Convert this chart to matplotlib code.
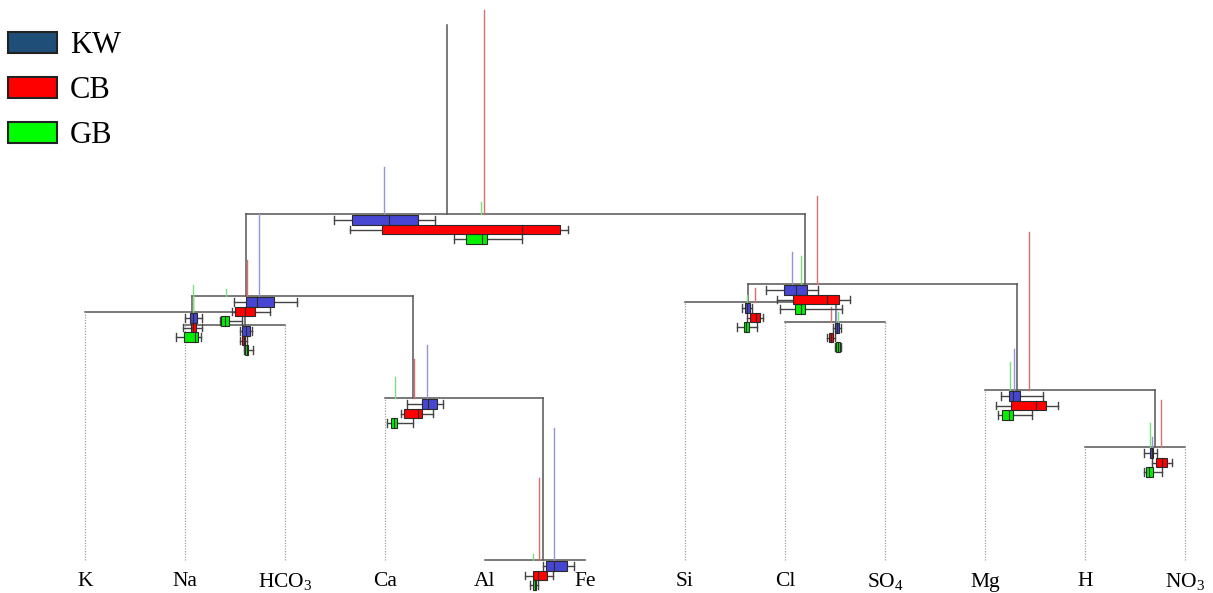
import matplotlib
matplotlib.use('Agg')
import matplotlib.pyplot as plt
from matplotlib.patches import Rectangle, Patch

plt.rcParams['font.family'] = ['Liberation Serif', 'DejaVu Serif']
plt.rcParams['mathtext.fontset'] = 'custom'
plt.rcParams['mathtext.rm'] = 'Liberation Serif'
plt.rcParams['mathtext.it'] = 'Liberation Serif'

# leaves, left to right
leaves = ['K', 'Na', r'HCO$_3$', 'Ca', 'Al', 'Fe',
          'Si', 'Cl', r'SO$_4$', 'Mg', 'H', r'NO$_3$']

# internal nodes: x position, height and children
# children are leaf indices (int) or node names (str)
node_x = {'root': 3.62, 'n2': 1.61, 'n3': 1.07, 'n4': 1.60, 'n5': 3.28,
          'n6': 4.58, 'n7': 7.20, 'n8': 6.63, 'n9': 7.51, 'n10': 9.32,
          'n11': 10.70}
node_h = {'root': 3.46, 'n2': 2.64, 'n3': 2.48, 'n4': 2.35, 'n5': 1.62,
          'n6': 0.0, 'n7': 2.76, 'n8': 2.58, 'n9': 2.38, 'n10': 1.70,
          'n11': 1.13}
node_kids = {'root': ('n2', 'n7'), 'n2': ('n3', 'n5'), 'n3': (0, 'n4'),
             'n4': (1, 2), 'n5': (3, 'n6'), 'n6': (4, 5),
             'n7': ('n8', 'n10'), 'n8': (6, 'n9'), 'n9': (7, 8),
             'n10': (9, 'n11'), 'n11': (10, 11)}
root_top = 5.35

groups = ['KW', 'CB', 'GB']

# box stats per node: (whisker low, q1, median, q3, whisker high)
box_kw = {'root': (2.49, 2.67, 3.04, 3.33, 3.50), 'n2': (1.49, 1.61, 1.72, 1.89, 2.12),
          'n3': (1.00, 1.05, 1.08, 1.12, 1.17), 'n4': (1.55, 1.57, 1.61, 1.65, 1.67),
          'n5': (3.22, 3.37, 3.43, 3.52, 3.58), 'n6': (4.58, 4.61, 4.69, 4.82, 4.89),
          'n7': (6.81, 6.99, 7.11, 7.22, 7.33), 'n8': (6.57, 6.60, 6.62, 6.65, 6.67),
          'n9': (7.48, 7.50, 7.52, 7.54, 7.56), 'n10': (9.16, 9.24, 9.28, 9.35, 9.58),
          'n11': (10.59, 10.65, 10.67, 10.68, 10.72)}
box_cb = {'root': (2.65, 2.97, 4.37, 4.75, 4.83), 'n2': (1.47, 1.50, 1.60, 1.70, 1.85),
          'n3': (0.98, 1.06, 1.08, 1.11, 1.17), 'n4': (1.55, 1.57, 1.585, 1.60, 1.62),
          'n5': (3.16, 3.19, 3.33, 3.37, 3.48), 'n6': (4.40, 4.48, 4.53, 4.62, 4.68),
          'n7': (6.92, 7.08, 7.42, 7.54, 7.65), 'n8': (6.62, 6.65, 6.71, 6.75, 6.78),
          'n9': (7.42, 7.44, 7.46, 7.48, 7.50), 'n10': (9.11, 9.26, 9.51, 9.61, 9.73),
          'n11': (10.67, 10.71, 10.77, 10.82, 10.87)}
box_gb = {'root': (3.69, 3.81, 3.97, 4.02, 4.37), 'n2': (1.35, 1.36, 1.40, 1.44, 1.57),
          'n3': (0.91, 0.99, 1.10, 1.13, 1.16), 'n4': (1.59, 1.60, 1.615, 1.63, 1.68),
          'n5': (3.02, 3.06, 3.09, 3.12, 3.28), 'n6': (4.45, 4.48, 4.50, 4.51, 4.53),
          'n7': (6.95, 7.10, 7.16, 7.20, 7.57), 'n8': (6.52, 6.59, 6.61, 6.64, 6.72),
          'n9': (7.50, 7.51, 7.53, 7.55, 7.56), 'n10': (9.13, 9.17, 9.24, 9.28, 9.47),
          'n11': (10.59, 10.61, 10.64, 10.68, 10.77)}

# thin vertical lines above each node: (x, top height)
spike_kw = {'root': (2.99, 3.93), 'n2': (1.74, 3.46), 'n5': (3.42, 2.15),
            'n6': (4.69, 1.32), 'n7': (7.07, 3.08), 'n9': (7.51, 2.52),
            'n10': (9.29, 2.11), 'n11': (10.67, 1.23)}
spike_cb = {'root': (3.99, 5.50), 'n2': (1.62, 3.00), 'n3': (1.08, 2.62),
            'n5': (3.29, 2.01), 'n6': (4.54, 0.82), 'n7': (7.32, 3.64),
            'n8': (6.70, 2.72), 'n9': (7.46, 2.53), 'n10': (9.44, 3.28),
            'n11': (10.76, 1.60)}
spike_gb = {'root': (3.96, 3.58), 'n2': (1.41, 2.71), 'n3': (1.08, 2.75),
            'n5': (3.10, 1.83), 'n6': (4.48, 0.06), 'n7': (7.16, 3.04),
            'n8': (6.62, 2.65), 'n9': (7.53, 2.48), 'n10': (9.25, 1.98),
            'n11': (10.65, 1.37)}

box_colors = {'KW': '#4646d2', 'CB': '#ff0000', 'GB': '#00f000'}
spike_colors = {'KW': '#9494d8', 'CB': '#d87070', 'GB': '#7ce07c'}
legend_colors = {'KW': '#1f4e79', 'CB': '#ff0000', 'GB': '#00ff00'}
tree_col = '#555555'


def child_pos(c):
    if isinstance(c, int):
        return c, 0.0
    return node_x[c], node_h[c]


def draw_tree(ax):
    for name, (a, b) in node_kids.items():
        h = node_h[name]
        xa, ha = child_pos(a)
        xb, hb = child_pos(b)
        ax.plot([xa, xb], [h, h], color=tree_col, lw=1.1, zorder=1)
        for c, xc, hc in ((a, xa, ha), (b, xb, hb)):
            if hc >= h:
                continue
            if isinstance(c, int):
                ax.plot([xc, xc], [hc, h], color='#a0a0a0', lw=0.9,
                        ls=(0, (1, 1.2)), zorder=1)
            else:
                ax.plot([xc, xc], [hc, h], color=tree_col, lw=1.1, zorder=1)
    ax.plot([node_x['root']] * 2, [node_h['root'], root_top],
            color=tree_col, lw=1.1, zorder=1)


def draw_boxes(ax):
    stats = {'KW': box_kw, 'CB': box_cb, 'GB': box_gb}
    spikes = {'KW': spike_kw, 'CB': spike_cb, 'GB': spike_gb}
    half = 0.047
    for name in node_kids:
        h = node_h[name]
        for g in groups:
            if name in spikes[g]:
                sx, top = spikes[g][name]
                ax.plot([sx, sx], [h, top], color=spike_colors[g], lw=1.0,
                        zorder=2)
        for k, g in enumerate(groups):
            wl, q1, med, q3, wh = stats[g][name]
            yc = h - 0.06 - k * 0.095
            ax.plot([wl, q1], [yc, yc], color='#444444', lw=1.0, zorder=3)
            ax.plot([q3, wh], [yc, yc], color='#444444', lw=1.0, zorder=3)
            for wx in (wl, wh):
                ax.plot([wx, wx], [yc - half * 0.8, yc + half * 0.8],
                        color='#444444', lw=1.0, zorder=3)
            ax.add_patch(Rectangle((q1, yc - half), q3 - q1, 2 * half,
                                   facecolor=box_colors[g], edgecolor='#2a2a2a',
                                   lw=0.8, zorder=4))
            ax.plot([med, med], [yc - half, yc + half], color='#2a2a2a',
                    lw=0.8, zorder=5)


fig = plt.figure(figsize=(12.13, 5.93), dpi=100)
ax = fig.add_axes([0, 0, 1, 1])
ax.set_xlim(-0.85, 11.28)
ax.set_ylim(-0.33, 5.60)
ax.axis('off')

draw_tree(ax)
draw_boxes(ax)

for i, lab in enumerate(leaves):
    ax.text(i, -0.22, lab, ha='center', va='center', fontsize=15.5)

handles = [Patch(facecolor=legend_colors[g], edgecolor='#222222', lw=1.5)
           for g in groups]
fig.legend(handles, groups, loc='upper left',
           bbox_to_anchor=(0.0066, 1 - 31 / 593),
           frameon=False, fontsize=22, handlelength=1.6, handleheight=0.68,
           handletextpad=0.42, labelspacing=0.53, borderpad=0.0,
           borderaxespad=0.0)

fig.savefig('out.png', dpi=100)
